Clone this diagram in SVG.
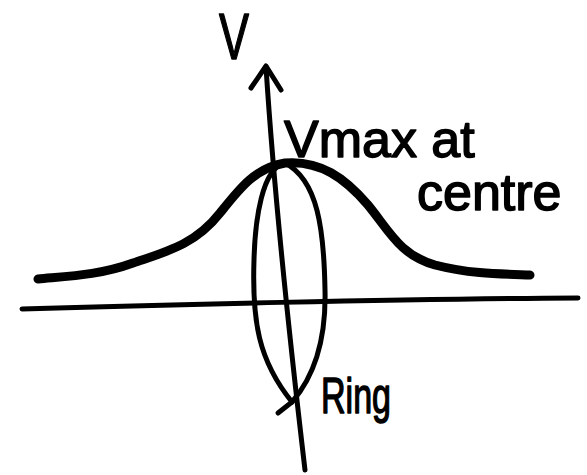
<svg xmlns="http://www.w3.org/2000/svg" width="587" height="475" viewBox="0 0 587 475">
<style>
.ln{fill:none;stroke:#000;stroke-width:5;stroke-linecap:round;stroke-linejoin:round}
.thick{fill:none;stroke:#000;stroke-width:9;stroke-linecap:round;stroke-linejoin:round}
.lbl{font-family:"Liberation Sans",Arial,sans-serif;fill:#000;stroke:#000;stroke-width:1.5;stroke-linejoin:round}
</style>
<rect width="587" height="475" fill="#fff"/>
<g id="axes">
<path class="ln" d="M22 309 C150 305 400 299 578 298"/>
<path class="ln" d="M266 67 C272 160 285 300 305 470"/>
<path class="ln" d="M251 88 L266 66 L281 90"/>
</g>
<g id="curve">
<path class="thick" d="M38 279 C70 276 100 275 133 263 C165 252 195 245 220 213 C240 188 255 168 285 163 C320 160 345 178 368 205 C390 232 400 255 435 265 C470 274 500 274 530 275"/>
</g>
<g id="ring">
<path class="ln" d="M285 163 C262 168 255 220 254 260 C252 320 258 360 292 402 C318 372 326 330 325 290 C324 230 318 180 285 163 Z"/>
<path class="ln" d="M292 402 L278 413"/>
</g>
<g id="labels">
<text class="lbl" x="219" y="59" font-size="64" textLength="30" lengthAdjust="spacingAndGlyphs">V</text>
<text class="lbl" x="284" y="157" font-size="52">Vmax at</text>
<text class="lbl" x="417" y="210" font-size="52">centre</text>
<text class="lbl" x="321" y="413" font-size="50" textLength="70" lengthAdjust="spacingAndGlyphs">Ring</text>
</g>
</svg>
